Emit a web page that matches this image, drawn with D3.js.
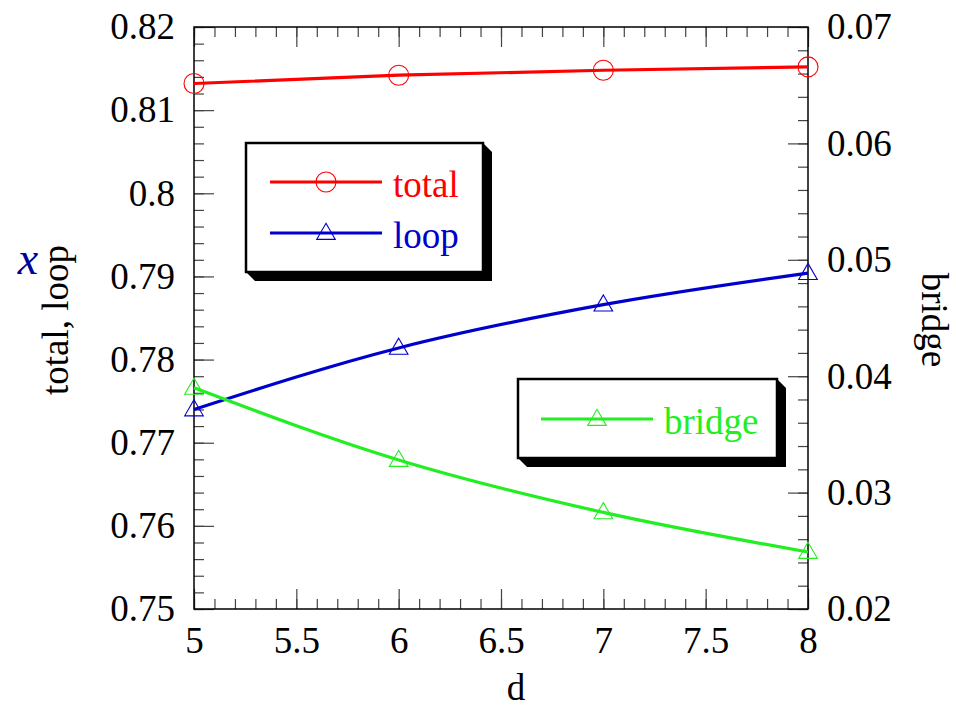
<!DOCTYPE html>
<html>
<head>
<meta charset="utf-8">
<script src="https://cdn.jsdelivr.net/npm/d3@7"></script>
<style>
  body { margin: 0; background: #fff; }
</style>
</head>
<body>
<div id="app"></div>
<script>
// values
const dValues = [5, 6, 7, 8]
const total = [0.8132, 0.8142, 0.8148, 0.8152]
const loop = [0.7740, 0.7814, 0.7866, 0.7904]
const bridge = [0.0390, 0.0328, 0.0283, 0.0249]

const xTicks = [5, 5.5, 6, 6.5, 7, 7.5, 8]
const leftTicks = [0.75, 0.76, 0.77, 0.78, 0.79, 0.8, 0.81, 0.82]
const rightTicks = [0.02, 0.03, 0.04, 0.05, 0.06, 0.07]

const red = '#ff0000', blue = '#0000cc', green = '#22ee22'

const width = 956, height = 710
const margin = {left: 194, right: 148, top: 27, bottom: 101}
const fontSize = '37px'
const serif = '"Liberation Serif", "Times New Roman", serif'

const svg = d3.select('#app').append('svg')
    .attr('width', width)
    .attr('height', height)
    .attr('viewBox', [0, 0, width, height])
    .style('font-family', serif)

const x = d3.scaleLinear().domain([5, 8]).range([margin.left, width - margin.right])
const yL = d3.scaleLinear().domain([0.75, 0.82]).range([height - margin.bottom, margin.top])
const yR = d3.scaleLinear().domain([0.02, 0.07]).range([height - margin.bottom, margin.top])

const xMinor = d3.range(50, 81).map(v => v / 10)
const yLMinor = d3.range(375, 411).map(v => v / 500)
const yRMinor = d3.range(10, 36).map(v => v / 500)

const bottom = height - margin.bottom, right = width - margin.right

function styleAxis(g, labels) {
    g.attr('font-family', null).attr('font-size', null)
    g.select('.domain').remove()
    g.selectAll('.tick line').attr('stroke', '#444').attr('stroke-width', 1.2)
    g.selectAll('.tick text').attr('fill', '#000')
        .style('font-size', fontSize).style('font-family', serif)
    if (!labels) g.selectAll('.tick text').remove()
}

// minor ticks
svg.append('g').attr('transform', `translate(0,${bottom})`)
    .call(d3.axisBottom(x).tickValues(xMinor).tickSize(-10).tickFormat(''))
    .call(g => styleAxis(g, false))
svg.append('g').attr('transform', `translate(0,${margin.top})`)
    .call(d3.axisTop(x).tickValues(xMinor).tickSize(-10).tickFormat(''))
    .call(g => styleAxis(g, false))
svg.append('g').attr('transform', `translate(${margin.left},0)`)
    .call(d3.axisLeft(yL).tickValues(yLMinor).tickSize(-10).tickFormat(''))
    .call(g => styleAxis(g, false))
svg.append('g').attr('transform', `translate(${right},0)`)
    .call(d3.axisRight(yR).tickValues(yRMinor).tickSize(-10).tickFormat(''))
    .call(g => styleAxis(g, false))

// major ticks + labels
svg.append('g').attr('transform', `translate(0,${bottom})`)
    .call(d3.axisBottom(x).tickValues(xTicks).tickSize(-20).tickPadding(18).tickFormat(d3.format('')))
    .call(g => styleAxis(g, true))
svg.append('g').attr('transform', `translate(0,${margin.top})`)
    .call(d3.axisTop(x).tickValues(xTicks).tickSize(-20).tickFormat(''))
    .call(g => styleAxis(g, false))
svg.append('g').attr('transform', `translate(${margin.left},0)`)
    .call(d3.axisLeft(yL).tickValues(leftTicks).tickSize(-20).tickPadding(19).tickFormat(d3.format('')))
    .call(g => styleAxis(g, true))
svg.append('g').attr('transform', `translate(${right},0)`)
    .call(d3.axisRight(yR).tickValues(rightTicks).tickSize(-20).tickPadding(19).tickFormat(d3.format('')))
    .call(g => styleAxis(g, true))

// frame
svg.append('rect')
    .attr('x', margin.left).attr('y', margin.top)
    .attr('width', right - margin.left).attr('height', bottom - margin.top)
    .attr('fill', 'none').attr('stroke', '#000').attr('stroke-width', 1.5)

// axis titles
svg.append('text').text('d')
    .attr('x', 516).attr('y', 700)
    .attr('text-anchor', 'middle').style('font-size', fontSize)
svg.append('text').text('total, loop')
    .attr('transform', 'translate(68,320) rotate(-90)')
    .attr('text-anchor', 'middle').style('font-size', fontSize)
svg.append('text').text('x')
    .attr('x', 28).attr('y', 274)
    .attr('text-anchor', 'middle').attr('fill', '#000099')
    .style('font-size', '46px').style('font-style', 'italic')
svg.append('text').text('bridge')
    .attr('transform', 'translate(922,320) rotate(90)')
    .attr('text-anchor', 'middle').style('font-size', fontSize)

// series
const series = [
    {name: 'total', values: total, y: yL, color: red, marker: 'circle'},
    {name: 'loop', values: loop, y: yL, color: blue, marker: 'triangle'},
    {name: 'bridge', values: bridge, y: yR, color: green, marker: 'triangle'},
]

const triangle = d3.symbol().type(d3.symbolTriangle).size(150)

for (const s of series) {
    const pts = dValues.map((d, i) => ({d: d, v: s.values[i]}))
    const line = d3.line()
        .x(p => x(p.d))
        .y(p => s.y(p.v))
        .curve(d3.curveMonotoneX)
    svg.append('path')
        .attr('d', line(pts))
        .attr('fill', 'none')
        .attr('stroke', s.color)
        .attr('stroke-width', 3.2)
    const g = svg.append('g')
    if (s.marker == 'circle') {
        g.selectAll('circle').data(pts).enter().append('circle')
            .attr('cx', p => x(p.d)).attr('cy', p => s.y(p.v))
            .attr('r', 10)
            .attr('fill', 'none').attr('stroke', s.color).attr('stroke-width', 1.1)
    } else {
        g.selectAll('path').data(pts).enter().append('path')
            .attr('d', triangle)
            .attr('transform', p => `translate(${x(p.d)},${s.y(p.v) + 1})`)
            .attr('fill', 'none').attr('stroke', s.color).attr('stroke-width', 1.1)
    }
}

// legends
function legendBox(left, top, right, bottom) {
    const off = 9
    svg.append('polygon')
        .attr('points', [[right, top], [right + off, top + off], [right + off, bottom + off],
            [left + off, bottom + off], [left, bottom]].map(p => p.join(',')).join(' '))
        .attr('fill', '#000')
    svg.append('rect')
        .attr('x', left).attr('y', top)
        .attr('width', right - left).attr('height', bottom - top)
        .attr('fill', '#fff').attr('stroke', '#000').attr('stroke-width', 2.5)
}

function legendItem(s, x0, y0) {
    svg.append('line')
        .attr('x1', x0).attr('x2', x0 + 112).attr('y1', y0).attr('y2', y0)
        .attr('stroke', s.color).attr('stroke-width', 3.2)
    if (s.marker == 'circle') {
        svg.append('circle').attr('cx', x0 + 56).attr('cy', y0).attr('r', 10)
            .attr('fill', 'none').attr('stroke', s.color).attr('stroke-width', 1.1)
    } else {
        svg.append('path').attr('d', triangle)
            .attr('transform', `translate(${x0 + 56},${y0 + 1})`)
            .attr('fill', 'none').attr('stroke', s.color).attr('stroke-width', 1.1)
    }
    svg.append('text').text(s.name)
        .attr('x', x0 + 123).attr('y', y0 + 15)
        .attr('fill', s.color).style('font-size', fontSize)
}

legendBox(246, 143, 483, 272)
legendItem(series[0], 270, 182)
legendItem(series[1], 270, 233)

legendBox(518, 379, 777, 458)
legendItem(series[2], 541, 419)
</script>
</body>
</html>
